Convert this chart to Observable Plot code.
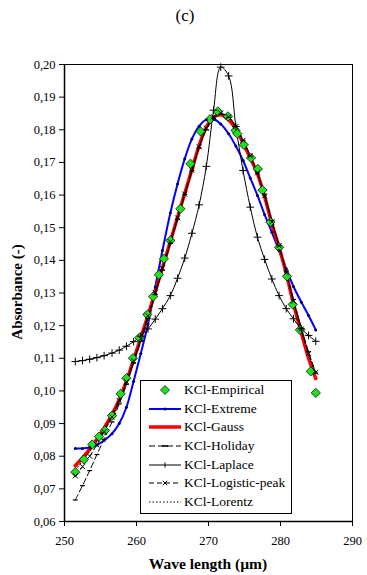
<!DOCTYPE html>
<html><head><meta charset="utf-8">
<script src="https://cdn.jsdelivr.net/npm/d3@7"></script>
<script src="https://cdn.jsdelivr.net/npm/@observablehq/plot@0.6"></script>
<style>
body{margin:0;background:#fff;}
#wrap{position:relative;width:367px;height:575px;font-family:"Liberation Serif","Times New Roman","DejaVu Serif",serif;color:#000;}
#title{position:absolute;left:0;top:6px;width:370px;text-align:center;font-size:17px;}
#legend{position:absolute;left:140px;top:380px;width:152px;height:134px;border:1.5px solid #000;background:#fff;box-sizing:border-box;}
.row{position:absolute;left:0;height:18px;display:flex;align-items:center;font-size:13.5px;white-space:nowrap;}
.row svg{margin-left:8px;margin-right:3px;}
svg text{font-family:"Liberation Serif","Times New Roman","DejaVu Serif",serif;}
</style></head><body>
<div id="wrap"><div id="title">(c)</div></div>
<script>
// ---- data ----
const waveModel = [251.5,252.5,253.5,254.5,255.5,256.6,257.6,258.6,259.6,260.6,261.6,262.6,263.6,264.7,265.7,266.7,267.7,268.7,269.7,270.7,271.7,272.8,273.8,274.8,275.8,276.8,277.8,278.8,279.8,280.8,281.8,282.9,283.9,284.9];
const empWave = [251.5,252.7,253.85,254.8,255.6,256.6,257.8,258.6,259.5,260.4,261.5,262.3,263.1,263.8,264.7,266.1,267.5,268.9,270.2,271.3,272.7,273.75,274.0,274.9,275.9,276.85,277.5,278.6,279.8,280.9,281.7,282.7,284.2,284.9];
const empAbs = [0.0751,0.0790,0.0836,0.0860,0.0879,0.0924,0.0991,0.1039,0.1100,0.1163,0.1234,0.1289,0.1356,0.1405,0.1461,0.1558,0.1696,0.1795,0.1832,0.1856,0.1841,0.1798,0.1788,0.1754,0.1714,0.1680,0.1615,0.1517,0.1440,0.1351,0.1265,0.1187,0.1060,0.0994];
const extreme = [0.0824,0.0824,0.0827,0.0834,0.0848,0.0869,0.0900,0.0950,0.1030,0.1115,0.1205,0.1318,0.1430,0.1545,0.1634,0.1711,0.1772,0.1811,0.1831,0.1832,0.1818,0.1788,0.1750,0.1706,0.1652,0.1599,0.1540,0.1486,0.1430,0.1374,0.1320,0.1272,0.1231,0.1187];
const gauss = [0.0771,0.0795,0.0822,0.0852,0.0886,0.0928,0.0973,0.1030,0.1096,0.1163,0.1232,0.1303,0.1377,0.1458,0.1532,0.1605,0.1678,0.1752,0.1808,0.1838,0.1846,0.1830,0.1802,0.1760,0.1714,0.1665,0.1595,0.1512,0.1440,0.1360,0.1267,0.1178,0.1100,0.1038];
const holiday = [0.0666,0.0710,0.0756,0.0805,0.0852,0.0905,0.0960,0.1020,0.1085,0.1152,0.1222,0.1295,0.1370,0.1452,0.1527,0.1602,0.1675,0.1745,0.1800,0.1835,0.1848,0.1838,0.1810,0.1768,0.1720,0.1668,0.1600,0.1522,0.1445,0.1365,0.1280,0.1192,0.1120,0.1055];
const laplace = [0.1090,0.1093,0.1097,0.1102,0.1108,0.1116,0.1125,0.1137,0.1151,0.1168,0.1190,0.1220,0.1252,0.1292,0.1345,0.1407,0.1483,0.1570,0.1688,0.1860,0.1992,0.1965,0.1810,0.1675,0.1563,0.1471,0.1403,0.1343,0.1292,0.1252,0.1221,0.1190,0.1170,0.1152];
const logisticPeak = [0.0740,0.0768,0.0800,0.0835,0.0875,0.0920,0.0970,0.1028,0.1092,0.1160,0.1230,0.1302,0.1376,0.1457,0.1530,0.1603,0.1676,0.1748,0.1805,0.1840,0.1852,0.1840,0.1810,0.1768,0.1720,0.1668,0.1598,0.1518,0.1445,0.1362,0.1275,0.1190,0.1115,0.1057];
const lorentz = [0.0758,0.0785,0.0815,0.0847,0.0882,0.0925,0.0972,0.1027,0.1090,0.1158,0.1228,0.1300,0.1374,0.1455,0.1528,0.1601,0.1674,0.1746,0.1803,0.1838,0.1850,0.1838,0.1808,0.1765,0.1717,0.1666,0.1597,0.1516,0.1443,0.1362,0.1272,0.1186,0.1112,0.1052];
const xTicks = [250,260,270,280,290];
const yTicks = [0.06,0.07,0.08,0.09,0.10,0.11,0.12,0.13,0.14,0.15,0.16,0.17,0.18,0.19,0.20];
const seriesNames = ["KCl-Empirical","KCl-Extreme","KCl-Gauss","KCl-Holiday","KCl-Laplace","KCl-Logistic-peak","KCl-Lorentz"];

// ---- tables ----
const toRows = arr => waveModel.map((w, i) => ({w, v: arr[i]}));
const emp = empWave.map((w, i) => ({w, v: empAbs[i]}));
const dExt = toRows(extreme), dGau = toRows(gauss), dHol = toRows(holiday),
      dLap = toRows(laplace), dLog = toRows(logisticPeak), dLor = toRows(lorentz);

const dashSymbol = {draw(ctx, size){const r = Math.sqrt(size/Math.PI); ctx.moveTo(-r,0); ctx.lineTo(r,0);}};
const curve = "catmull-rom";
const fmt = d => d.toFixed(2).replace(".", ",");

const chart = Plot.plot({
  width: 367, height: 575,
  marginTop: 64, marginBottom: 54, marginLeft: 64, marginRight: 15,
  style: {fontFamily: "'Liberation Serif', 'Times New Roman', 'DejaVu Serif', serif", fontSize: "12.5px", color: "#000", background: "#fff", overflow: "visible"},
  x: {domain: [250, 290], ticks: xTicks, tickFormat: d => String(d), tickSize: 5, tickPadding: 10, label: null},
  y: {domain: [0.06, 0.20], ticks: yTicks, tickFormat: fmt, tickSize: 5, tickPadding: 4, label: null},
  marks: [
    Plot.frame({stroke: "#000", strokeWidth: 1}),
    Plot.line(dExt, {x: "w", y: "v", stroke: "#0000ff", strokeWidth: 2, curve}),
    Plot.line(dGau, {x: "w", y: "v", stroke: "#ff0000", strokeWidth: 3.5, curve}),
    Plot.line(dHol, {x: "w", y: "v", stroke: "#000", strokeWidth: 1, strokeDasharray: "6,3", curve}),
    Plot.line(dLap, {x: "w", y: "v", stroke: "#000", strokeWidth: 1, curve}),
    Plot.line(dLog, {x: "w", y: "v", stroke: "#000", strokeWidth: 1, strokeDasharray: "5,3", curve}),
    Plot.line(dLor, {x: "w", y: "v", stroke: "#000", strokeWidth: 1, strokeDasharray: "1.5,2", curve}),
    Plot.dot(emp, {x: "w", y: "v", symbol: "diamond2", r: 4.2, fill: "#1ee01e", stroke: "#000", strokeWidth: 0.7}),
    Plot.dot(dExt, {x: "w", y: "v", r: 1.5, fill: "#00005a", stroke: "none"}),
    Plot.dot(dHol, {x: "w", y: "v", symbol: dashSymbol, r: 2.4, fill: "none", stroke: "#000", strokeWidth: 1.2}),
    Plot.dot(dLap, {x: "w", y: "v", symbol: "plus", r: 2.6, stroke: "#000", strokeWidth: 1}),
    Plot.dot(dLog, {x: "w", y: "v", symbol: "times", r: 2.4, stroke: "#000", strokeWidth: 1}),
    Plot.ruleX([250], {stroke: "#000", strokeWidth: 1.5}),
    Plot.ruleY([0.06], {stroke: "#000", strokeWidth: 1.5})
  ]
});
const wrap = document.getElementById("wrap");
wrap.appendChild(chart);

// axis titles
const svg = d3.select(chart);
svg.append("text").attr("x", 208).attr("y", 569).attr("text-anchor", "middle")
  .attr("font-weight", "bold").attr("font-size", 15.5).text("Wave length (µm)");
svg.append("text").attr("transform", "translate(22,292) rotate(-90)").attr("text-anchor", "middle")
  .attr("font-weight", "bold").attr("font-size", 15).text("Absorbance (-)");

// legend
const legend = document.createElement("div");
legend.id = "legend";
wrap.appendChild(legend);
const rowCenters = [10, 29, 47.5, 66, 85, 103.5, 122];
const swatches = [
  `<path d="M16,4.5 L20.5,9 L16,13.5 L11.5,9Z" fill="#1ee01e" stroke="#000" stroke-width="0.7"/>`,
  `<line x1="0" x2="32" y1="9" y2="9" stroke="#0000ff" stroke-width="2"/><circle cx="16" cy="9" r="1.6" fill="#00005a"/>`,
  `<line x1="0" x2="32" y1="9" y2="9" stroke="#ff0000" stroke-width="3.5"/>`,
  `<line x1="0" x2="32" y1="9" y2="9" stroke="#000" stroke-width="1" stroke-dasharray="6,3"/><line x1="13" x2="19" y1="9" y2="9" stroke="#000" stroke-width="1.6"/>`,
  `<line x1="0" x2="32" y1="9" y2="9" stroke="#000" stroke-width="1"/><line x1="16" x2="16" y1="6.4" y2="11.6" stroke="#000" stroke-width="1"/>`,
  `<line x1="0" x2="32" y1="9" y2="9" stroke="#000" stroke-width="1" stroke-dasharray="5,3"/><path d="M13.8,6.8 L18.2,11.2 M18.2,6.8 L13.8,11.2" stroke="#000" stroke-width="1"/>`,
  `<line x1="0" x2="32" y1="9" y2="9" stroke="#000" stroke-width="1" stroke-dasharray="1.5,2"/>`
];
seriesNames.forEach((name, i) => {
  const row = document.createElement("div");
  row.className = "row";
  row.style.top = (rowCenters[i] - 9 - 1.5) + "px";
  row.innerHTML = `<svg width="32" height="18">${swatches[i]}</svg><span>${name}</span>`;
  legend.appendChild(row);
});
</script>
</body></html>
